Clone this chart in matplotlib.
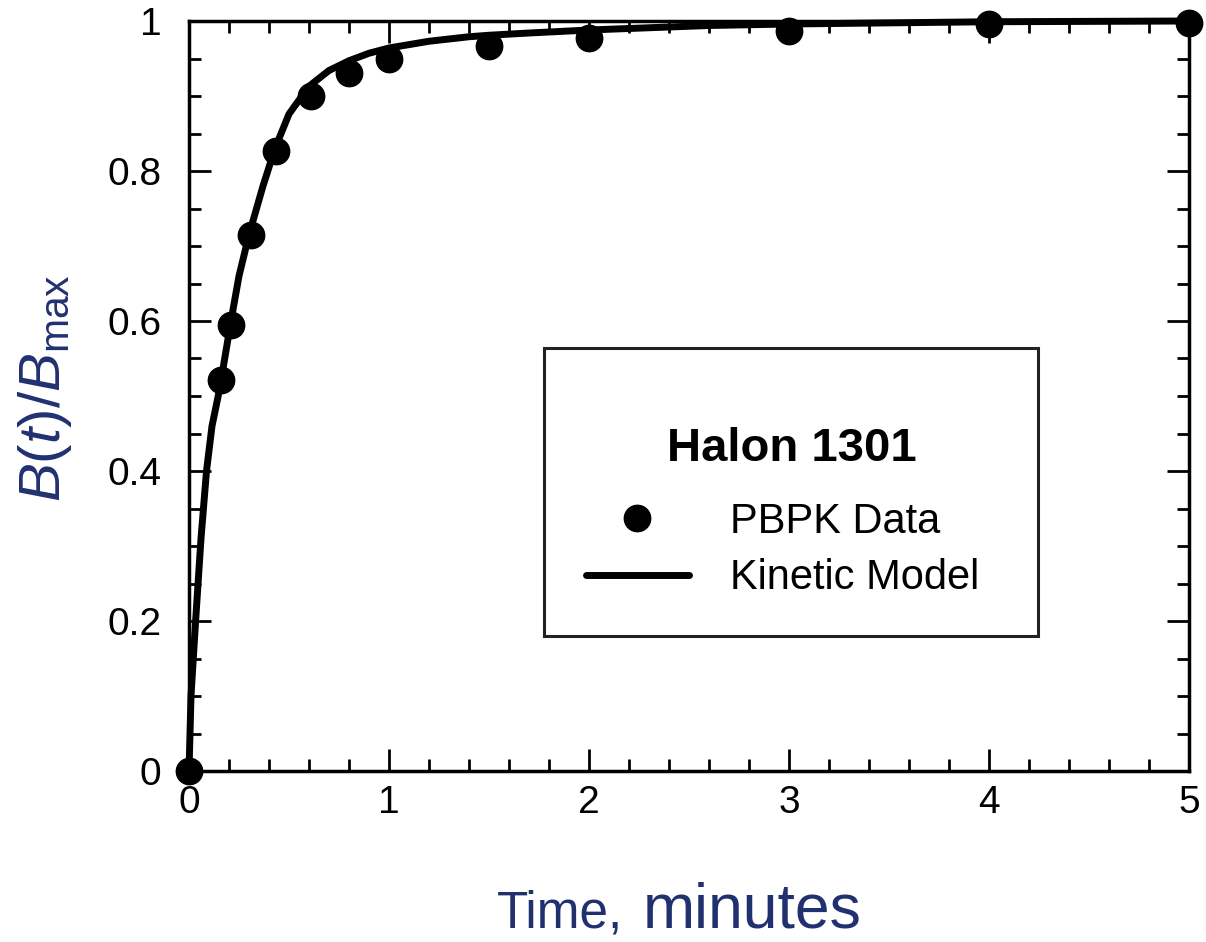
import matplotlib
matplotlib.use("Agg")
import matplotlib.pyplot as plt
from matplotlib.patches import Rectangle
from matplotlib.ticker import MultipleLocator, FormatStrFormatter

plt.rcParams["font.family"] = ["Liberation Sans", "DejaVu Sans"]
plt.rcParams["mathtext.fontset"] = "custom"
plt.rcParams["mathtext.rm"] = "Liberation Sans"
plt.rcParams["mathtext.it"] = "Liberation Sans:italic"

# PBPK data points (time in minutes, B(t)/Bmax)
pbpk_t = [0, 0.16, 0.21, 0.31, 0.435, 0.61, 0.80, 1.0, 1.5, 2.0, 3.0, 4.0, 5.0]
pbpk_b = [0, 0.522, 0.595, 0.715, 0.827, 0.90, 0.931, 0.95, 0.967, 0.977, 0.987, 0.996, 0.998]

# kinetic model curve
model_t = [0, 0.01, 0.033, 0.06, 0.0875, 0.115, 0.146, 0.166, 0.21, 0.25, 0.3,
           0.37, 0.43, 0.5, 0.6, 0.7, 0.8, 0.9, 1.0, 1.2, 1.4, 1.5, 1.7, 2.0,
           2.6, 3.0, 4.0, 5.0]
model_b = [0, 0.1, 0.2, 0.31, 0.4, 0.46, 0.5, 0.53, 0.6, 0.66, 0.715,
           0.78, 0.83, 0.876, 0.913, 0.934, 0.947, 0.957, 0.964, 0.973, 0.979, 0.981, 0.984, 0.988,
           0.994, 0.996, 0.999, 1.0]

navy = "#213170"

fig = plt.figure(figsize=(12.06, 9.42), dpi=100)
ax = fig.add_axes([189 / 1206, 1 - 771 / 942, 1000 / 1206, 750 / 942])

line, = ax.plot(model_t, model_b, color="black", lw=5, solid_capstyle="round",
                solid_joinstyle="round", label="Kinetic Model", clip_on=False, zorder=3)
dots, = ax.plot(pbpk_t, pbpk_b, "o", color="black", ms=19, label="PBPK Data",
                clip_on=False, zorder=4)

ax.set_xlim(0, 5)
ax.set_ylim(0, 1)
ax.xaxis.set_major_locator(MultipleLocator(1))
ax.xaxis.set_minor_locator(MultipleLocator(0.2))
ax.yaxis.set_major_locator(MultipleLocator(0.2))
ax.yaxis.set_minor_locator(MultipleLocator(0.05))
ax.yaxis.set_major_formatter(FormatStrFormatter("%g"))
ax.tick_params(which="both", direction="in", top=True, right=True, width=2)
ax.tick_params(which="major", length=16, labelsize=28)
ax.tick_params(which="minor", length=8.5)
ax.tick_params(axis="y", which="major", pad=20)
ax.tick_params(axis="x", which="major", pad=10)
for sp in ax.spines.values():
    sp.set_linewidth(2.5)

# legend box
ax.add_patch(Rectangle((0.3554, 0.18), 0.4934, 0.384, transform=ax.transAxes,
                       fill=False, lw=2.2, edgecolor="#222222", zorder=5))
ax.text(0.6026, 0.4293, "Halon 1301", transform=ax.transAxes, ha="center",
        va="center", fontsize=34, fontweight="bold")
ax.legend([dots, line], ["PBPK Data", "Kinetic Model"], loc="center left",
          bbox_to_anchor=(0.376, 0.2947), frameon=False, borderpad=0,
          handlelength=2.47, handletextpad=1.0, labelspacing=0.4,
          fontsize=30, numpoints=1)

# axis labels
fig.text(0.0373, 0.588, r"$\mathit{B}(\mathit{t})/\mathit{B}_{\mathrm{max}}$",
         rotation=90, ha="center", va="center", fontsize=42, color=navy)
fig.text(497 / 1206, 1 - 928 / 942, "Time,", ha="left", va="baseline",
         fontsize=37, color=navy)
fig.text(643 / 1206, 1 - 928 / 942, "minutes", ha="left", va="baseline",
         fontsize=45, color=navy)

fig.savefig("out.png", dpi=100)
